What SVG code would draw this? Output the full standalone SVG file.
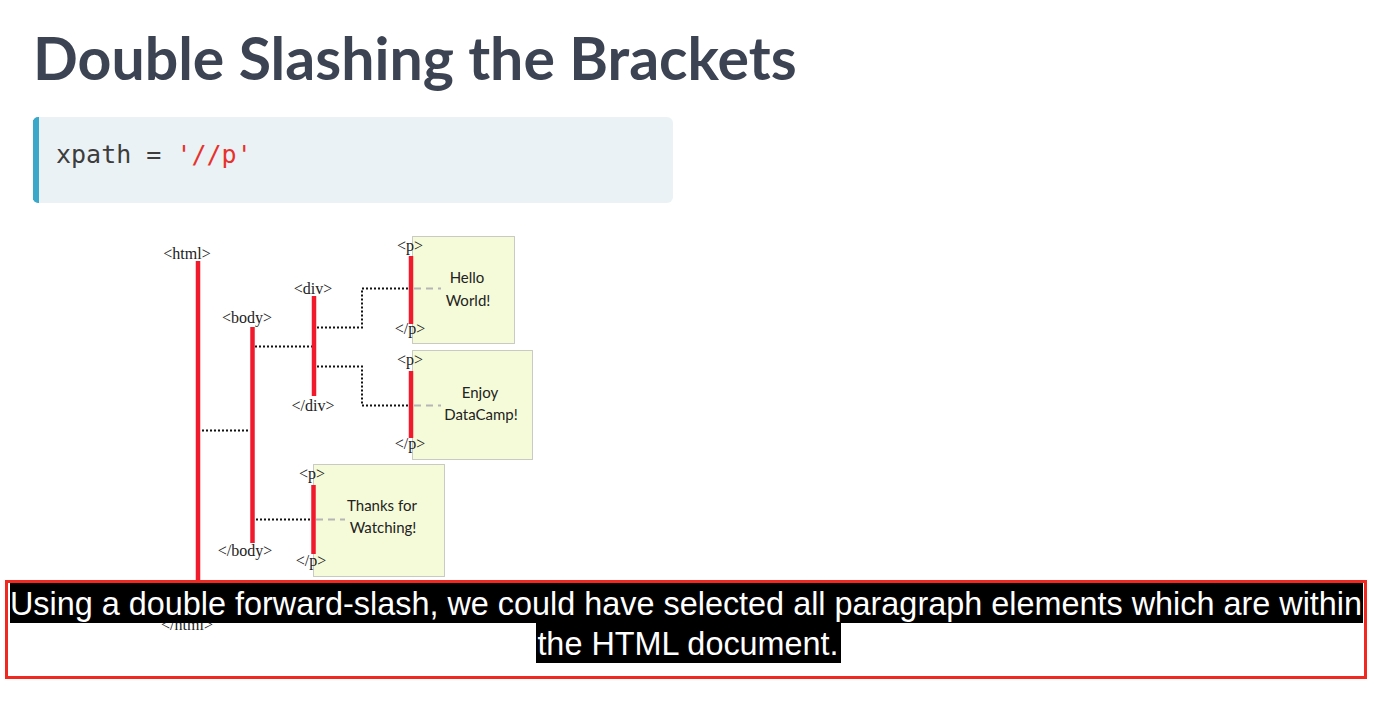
<svg xmlns="http://www.w3.org/2000/svg" width="1374" height="710" viewBox="0 0 1374 710">
  <style>
    .title { font-family: Lato, "Open Sans", sans-serif; font-weight: 700; font-size: 59px; fill: #3c4353; }
    .code { font-family: "DejaVu Sans Mono", "Liberation Mono", monospace; font-size: 25px; fill: #3d3d3d; }
    .str { fill: #e8312b; }
    .tag { font-family: "Liberation Serif", "DejaVu Serif", serif; font-size: 16px; fill: #222; text-anchor: middle; }
    .body-text { font-family: Lato, "Open Sans", sans-serif; font-size: 15px; fill: #222; text-anchor: middle; }
    .bar { stroke: #f01a2c; stroke-width: 4.5; fill: none; }
    .link { stroke: #111; stroke-width: 2; stroke-dasharray: 2 2; fill: none; }
    .leader { stroke: #b5b5b5; stroke-width: 2; stroke-dasharray: 7 5; fill: none; }
    .box { fill: #f5fbd8; stroke: #999; stroke-width: 1; stroke-dasharray: 1 1; }
    .caption { font-family: "Liberation Sans", Arial, sans-serif; font-size: 32.4px; fill: #fff; text-anchor: middle; }
  </style>

  <rect x="0" y="0" width="1374" height="710" fill="#ffffff"/>

  <!-- heading -->
  <text class="title" x="33" y="80">Double Slashing the Brackets</text>

  <!-- code block -->
  <g id="code-block">
    <rect x="33" y="117" width="640" height="86" rx="6" fill="#ebf2f6"/>
    <path d="M39,117 H38 A5,5 0 0 0 33,122 V198 A5,5 0 0 0 38,203 H39 Z" fill="#3aa9c9"/>
    <rect x="33" y="120" width="5" height="80" fill="#3aa9c9"/>
    <text class="code" x="56" y="163">xpath = <tspan class="str">'//p'</tspan></text>
  </g>

  <!-- paragraph boxes -->
  <rect class="box" x="412.5" y="236.5" width="102" height="107"/>
  <rect class="box" x="412.5" y="350.5" width="120" height="109"/>
  <rect class="box" x="313.5" y="464.5" width="131" height="112"/>

  <!-- connectors -->
  <g id="connectors">
    <path class="link" d="M202,430.5 H250"/>
    <path class="link" d="M255,346.5 H312"/>
    <path class="link" d="M317,327.5 H362 V288.5 H409"/>
    <path class="link" d="M317,366.5 H362 V405.5 H409"/>
    <path class="link" d="M256,519.5 H311"/>
    <path class="leader" d="M414,288.5 H441"/>
    <path class="leader" d="M414,405.5 H441"/>
    <path class="leader" d="M316,519.5 H345"/>
  </g>

  <g id="html">
    <text class="tag" x="187" y="259">&lt;html&gt;</text>
    <line class="bar" x1="198" y1="261" x2="198" y2="582"/>
    <text class="tag" x="187" y="630">&lt;/html&gt;</text>
  </g>

  <g id="body">
    <text class="tag" x="247" y="323">&lt;body&gt;</text>
    <line class="bar" x1="252.5" y1="327" x2="252.5" y2="543"/>
    <text class="tag" x="245" y="556">&lt;/body&gt;</text>
  </g>

  <g id="div">
    <text class="tag" x="313" y="294">&lt;div&gt;</text>
    <line class="bar" x1="314" y1="296" x2="314" y2="396"/>
    <text class="tag" x="313" y="411">&lt;/div&gt;</text>
  </g>

  <g id="p-hello">
    <text class="tag" x="410" y="251">&lt;p&gt;</text>
    <line class="bar" x1="411" y1="256" x2="411" y2="324"/>
    <text class="tag" x="410" y="334">&lt;/p&gt;</text>
    <text class="body-text" x="467" y="283">Hello</text>
    <text class="body-text" x="468" y="306">World!</text>
  </g>

  <g id="p-enjoy">
    <text class="tag" x="410" y="365">&lt;p&gt;</text>
    <line class="bar" x1="411" y1="371" x2="411" y2="438"/>
    <text class="tag" x="410" y="449">&lt;/p&gt;</text>
    <text class="body-text" x="480" y="398">Enjoy</text>
    <text class="body-text" x="481" y="420">DataCamp!</text>
  </g>

  <g id="p-thanks">
    <text class="tag" x="312" y="479">&lt;p&gt;</text>
    <line class="bar" x1="313.5" y1="485" x2="313.5" y2="554"/>
    <text class="tag" x="311" y="566">&lt;/p&gt;</text>
    <text class="body-text" x="382" y="511">Thanks  for</text>
    <text class="body-text" x="383" y="533">Watching!</text>
  </g>

  <!-- subtitle overlay -->
  <g id="caption">
    <rect x="10" y="583" width="1353" height="40" fill="#000"/>
    <rect x="536" y="623" width="305" height="40" fill="#000"/>
    <text class="caption" x="686" y="615">Using a double forward-slash, we could have selected all paragraph elements which are within</text>
    <text class="caption" x="688" y="655">the HTML document.</text>
    <rect x="6.5" y="581.5" width="1359" height="96" fill="none" stroke="#f0281f" stroke-width="3"/>
  </g>
</svg>
